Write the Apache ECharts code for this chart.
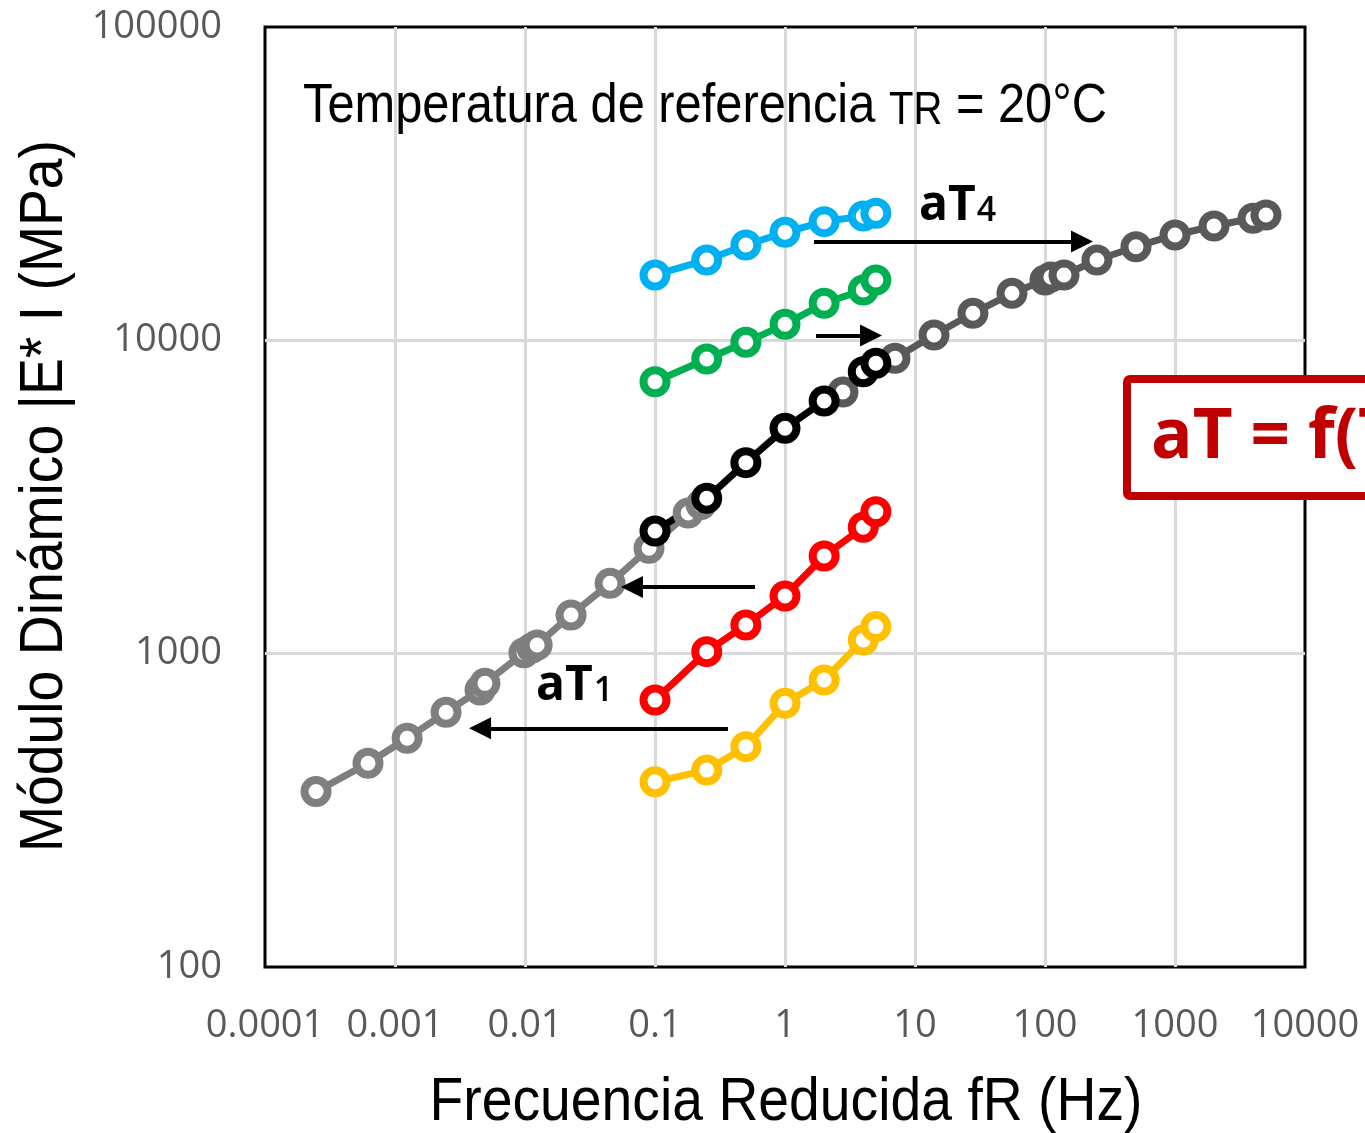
<!DOCTYPE html>
<html>
<head>
<meta charset="utf-8">
<script src="https://cdn.jsdelivr.net/npm/echarts@6/dist/echarts.min.js"></script>
<style>
  html, body { margin: 0; padding: 0; background: #fff; }
  #chart { width: 1365px; height: 1133px; }
</style>
</head>
<body>
<div id="chart"></div>
<script>
// Test frequencies (Hz)
const freqTest = [0.1, 0.25, 0.5, 1, 2, 4, 5];

// |E*| (MPa) per test temperature
const moduloT1 = [390, 425, 505, 694, 824, 1106, 1220];      // yellow
const moduloT2 = [711, 1015, 1235, 1528, 2050, 2532, 2839];  // red
const moduloTR = [2464, 3132, 4070, 5240, 6405, 7943, 8446]; // black, 20 °C
const moduloT3 = [7380, 8720, 9856, 11250, 13130, 14480, 15580]; // green
const moduloT4 = [16165, 18050, 20150, 22120, 23920, 24940, 25430]; // blue

// Master curve, low reduced frequencies (T1 and T2 shifted)
const masterLowFreq = [0.000247, 0.00062, 0.00124, 0.00247, 0.00451, 0.00492, 0.00982, 0.0113, 0.0124, 0.0226, 0.0451, 0.0899, 0.180, 0.226];
const masterLowMod  = [363, 447, 537, 650, 766, 804, 1007, 1042, 1066, 1329, 1677, 2170, 2811, 2990];

// Master curve, high reduced frequencies (T3 and T4 shifted)
const masterHighFreq = [2.79, 7.02, 14.0, 27.9, 55.7, 100, 111, 140, 251, 501, 1000, 1995, 3981, 5012];
const masterHighMod  = [6842, 8763, 10400, 12200, 14130, 15580, 15930, 16165, 18050, 19900, 21690, 23170, 24520, 25120];

// Axis tick labels
const freqTickLabels = ['0.0001', '0.001', '0.01', '0.1', '1', '10', '100', '1000', '10000'];
const moduloTickLabels = ['100', '1000', '10000', '100000'];

// Shift arrows: [fromFreq, toFreq, modulus]
const shiftArrows = [
  [1.672, 192.6, 20670],
  [1.732, 4.586, 10363],
  [0.588, 0.0665, 1632],
  [0.364, 0.00451, 578]
];

const sansFont = "'Liberation Sans', Arial, sans-serif";
const tickFont = "'Open Sans', 'Noto Sans', sans-serif";
const boldFont = "'Open Sans', 'Noto Sans', sans-serif";

// width measurement, used to fit condensed captions to their span
const measureCtx = document.createElement('canvas').getContext('2d');
function textWidth(str, size, family, weight) {
  measureCtx.font = (weight || 'normal') + ' ' + size + 'px ' + family;
  return measureCtx.measureText(str).width;
}
function fitScale(parts, family, target) {
  const w = parts.reduce((s, p) => s + textWidth(p[0], p[1], family, p[2]), 0);
  return target / w;
}

function pairs(xs, ys) { return xs.map((x, i) => [x, ys[i]]); }

function tickFormatter(labels) {
  return function (v) {
    const hit = labels.find(s => Math.abs(Math.log10(Number(s)) - Math.log10(v)) < 1e-6);
    return hit || '';
  };
}

function curve(name, xs, ys, color) {
  return {
    name: name,
    type: 'line',
    data: pairs(xs, ys),
    symbol: 'circle',
    symbolSize: 23,
    showAllSymbol: true,
    lineStyle: { color: color, width: 7 },
    itemStyle: { color: '#ffffff', borderColor: color, borderWidth: 8 },
    emphasis: { disabled: true },
    z: 3
  };
}

const titleText = [['Temperatura de referencia ', 56], ['TR', 46], [' = 20°C', 56]];
const xName = 'Frecuencia Reducida fR (Hz)';
const yName = 'Módulo Dinámico |E* I (MPa)';
const titleScale = fitScale(titleText, sansFont, 804);
const xNameScale = fitScale([[xName, 62]], sansFont, 713);
const yNameScale = fitScale([[yName, 62]], sansFont, 712);

function shiftLabel(x, y, digit) {
  return {
    type: 'text', x: x, y: y, z: 10,
    style: {
      text: '{a|aT}{b|' + digit + '}',
      verticalAlign: 'bottom',
      rich: {
        a: { fontFamily: boldFont, fontWeight: 'bold', fontSize: 48, fill: '#000000', verticalAlign: 'bottom', lineHeight: 48 },
        b: { fontFamily: boldFont, fontWeight: 600, fontSize: 34, fill: '#000000', verticalAlign: 'bottom', lineHeight: 48, padding: [0, 0, 2, 1] }
      }
    }
  };
}

const chart = echarts.init(document.getElementById('chart'), null, { renderer: 'canvas' });

const gridLine = { show: true, showMinLine: false, showMaxLine: false, lineStyle: { color: '#d9d9d9', width: 3 } };

chart.setOption({
  animation: false,
  backgroundColor: '#ffffff',
  grid: {
    left: 265, right: 60, top: 27, bottom: 166,
    outerBoundsMode: 'none',
    containLabel: false,
    show: true, borderColor: '#000000', borderWidth: 3, backgroundColor: 'transparent'
  },
  xAxis: {
    type: 'log', logBase: 10, min: 0.0001, max: 10000,
    axisLine: { show: false }, axisTick: { show: false },
    splitLine: gridLine,
    axisLabel: {
      formatter: tickFormatter(freqTickLabels),
      fontFamily: tickFont, fontSize: 38, color: '#595959', margin: 40,
      showMinLabel: true, showMaxLabel: true, hideOverlap: false
    }
  },
  yAxis: {
    type: 'log', logBase: 10, min: 100, max: 100000,
    axisLine: { show: false }, axisTick: { show: false },
    splitLine: gridLine,
    axisLabel: {
      formatter: tickFormatter(moduloTickLabels),
      fontFamily: tickFont, fontSize: 38, color: '#595959', margin: 43,
      showMinLabel: true, showMaxLabel: true
    }
  },
  series: [
    curve('Curva maestra (baja)', masterLowFreq, masterLowMod, '#7f7f7f'),
    curve('Curva maestra (alta)', masterHighFreq, masterHighMod, '#595959'),
    curve('T1', freqTest, moduloT1, '#ffc000'),
    curve('T2', freqTest, moduloT2, '#ff0000'),
    curve('TR = 20°C', freqTest, moduloTR, '#000000'),
    curve('T3', freqTest, moduloT3, '#00b050'),
    curve('T4', freqTest, moduloT4, '#00b0f0'),
    {
      name: 'Desplazamientos',
      type: 'line',
      data: [],
      z: 4,
      markLine: {
        silent: true,
        animation: false,
        symbol: ['none', 'triangle'],
        symbolSize: 22,
        label: { show: false },
        lineStyle: { color: '#000000', width: 4, type: 'solid' },
        emphasis: { disabled: true },
        data: shiftArrows.map(a => [{ coord: [a[0], a[2]] }, { coord: [a[1], a[2]] }])
      }
    }
  ],
  graphic: [
    {
      type: 'text', x: 303, y: 105, z: 10, scaleX: titleScale,
      style: {
        text: '{a|Temperatura de referencia }{b|TR}{a| = 20°C}',
        verticalAlign: 'middle',
        rich: {
          a: { fontFamily: sansFont, fontSize: 56, fill: '#000000', verticalAlign: 'bottom', lineHeight: 60 },
          b: { fontFamily: sansFont, fontSize: 46, fill: '#000000', verticalAlign: 'bottom', lineHeight: 60, padding: [0, 0, 1, 0] }
        }
      }
    },
    {
      type: 'text', x: 786, y: 1103, z: 10, scaleX: xNameScale,
      style: { text: xName, fontFamily: sansFont, fontSize: 62, fill: '#000000', align: 'center', verticalAlign: 'middle' }
    },
    {
      type: 'text', x: 45, y: 496, z: 10, rotation: Math.PI / 2, scaleX: yNameScale,
      style: { text: yName, fontFamily: sansFont, fontSize: 62, fill: '#000000', align: 'center', verticalAlign: 'middle' }
    },
    shiftLabel(919, 230, '4'),
    shiftLabel(536, 710, '1'),
    {
      type: 'group', z: 20,
      children: [
        {
          type: 'rect', z: 20,
          shape: { x: 1127, y: 379, width: 420, height: 117, r: 3 },
          style: { fill: '#ffffff', stroke: '#c00000', lineWidth: 8 }
        },
        {
          type: 'text', z: 21, x: 1151, y: 438,
          style: {
            text: 'aT = f(T)',
            fontFamily: boldFont, fontWeight: 'bold', fontSize: 69,
            fill: '#c00000', verticalAlign: 'middle', align: 'left'
          }
        }
      ]
    }
  ]
});
</script>
</body>
</html>
